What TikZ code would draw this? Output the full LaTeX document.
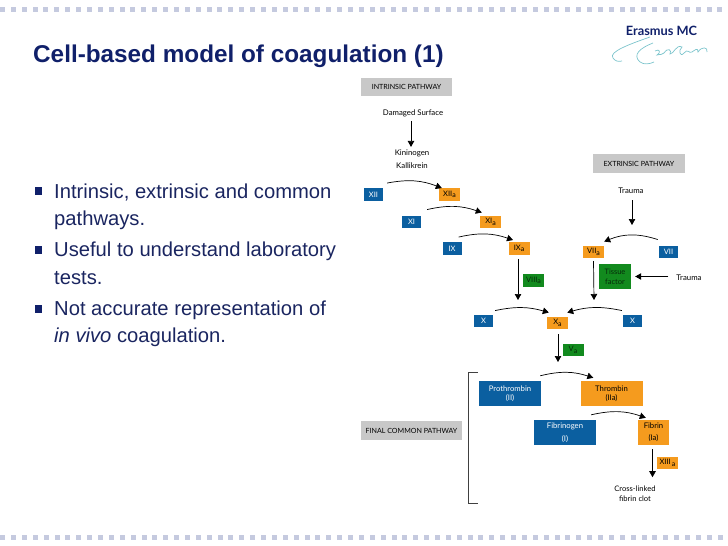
\documentclass[tikz,border=0pt]{standalone}
\usepackage{fontspec}
\setmainfont{Liberation Sans}
\newfontfamily\diagfont{Lato}
\usetikzlibrary{arrows.meta}
\definecolor{titlenavy}{HTML}{10206A}
\definecolor{bodynavy}{HTML}{1A2560}
\definecolor{dotgrey}{HTML}{C5CADF}
\definecolor{zymogen}{HTML}{0B5FA0}
\definecolor{active}{HTML}{F59B1E}
\definecolor{cofactor}{HTML}{128A1E}
\definecolor{cofatext}{HTML}{062A0A}
\definecolor{pathgrey}{HTML}{C8C8C8}
\definecolor{logoteal}{HTML}{7CC4CC}
\newcommand{\suba}{\raisebox{-1.6pt}{\fontsize{7}{7}\selectfont a}}
\tikzset{
    factor/.style={
        minimum width=19pt,
        minimum height=12.5pt,
        inner sep=0pt,     % Boxes keep their size whatever the text
        align=center,
        font=\diagfont\fontsize{7.5}{8}\selectfont
    },
    zymo/.style={factor,fill=zymogen,text=white},
    actv/.style={factor,fill=active,text=black,minimum width=21pt},
    cofa/.style={factor,fill=cofactor,text=cofatext,minimum width=21pt},
    bigbox/.style={minimum width=62pt,minimum height=25pt},
    pathbox/.style={
        fill=pathgrey,
        inner sep=0pt,
        font=\diagfont\fontsize{7.1}{8}\selectfont
    },
    plain/.style={inner sep=0pt,align=center,font=\diagfont\fontsize{7.8}{13}\selectfont},
    conv/.style={-{Triangle[length=6pt,width=6.5pt]},line width=0.7pt,black},
    bullet/.style={anchor=west,inner sep=0pt,text=bodynavy,font=\fontsize{20.2}{22}\selectfont},
    sqdot/.style={fill=dotgrey,draw=none}
}
\begin{document}
\begin{tikzpicture}[x=1pt,y=-1pt]
\useasboundingbox (0,0) rectangle (728,546);
% dotted rules along the slide
\foreach \i in {0,...,67} {
    \fill[sqdot] (0+\i*10.87,6.5) rectangle ++(5,5);
    \fill[sqdot] (0.2+\i*10.87,535) rectangle ++(5,5);
}
% slide text
\node[anchor=west,inner sep=0pt,text=titlenavy,font=\bfseries\fontsize{24.3}{28}\selectfont] (title) at (33,56) {Cell-based model of coagulation (1)};
\node[bullet] (line1) at (54,192) {Intrinsic, extrinsic and common};
\node[bullet] (line2) at (54,220) {pathways.};
\node[bullet] (line3) at (54,251) {Useful to understand laboratory};
\node[bullet] (line4) at (54,278) {tests.};
\node[bullet] (line5) at (54,310) {Not accurate representation of};
\node[bullet] (line6) at (54,337) {\textit{in vivo} coagulation.};
\foreach \y in {191,250,309} {
    \fill[titlenavy] (34.5,\y-4) rectangle ++(7.5,7.5);
}
% logo
\node[inner sep=0pt,text=titlenavy,font=\diagfont\bfseries\fontsize{12.8}{13}\selectfont] (logo) at (661.5,31) {Erasmus MC};
\draw[logoteal,line width=0.7pt] (650,37) .. controls (630,44) and (608,52) .. (613,58) .. controls (615,61) and (618,62) .. (622,61);
\draw[logoteal,line width=0.7pt] (653,43) .. controls (640,48) and (632,55) .. (640,62) .. controls (644,65) and (650,64) .. (654,62);
\draw[logoteal,line width=0.7pt] (655,51) .. controls (660,48) and (661,53) .. (657,55) .. controls (661,54) and (662,55) .. (664,53) .. controls (668,47) and (672,50) .. (670,54) .. controls (674,54) and (676,44) .. (682,47) .. controls (678,50) and (680,58) .. (684,53) .. controls (688,48) and (689,54) .. (692,52) .. controls (695,50) and (698,47) .. (698,52) .. controls (702,46) and (708,47) .. (707,52);
% pathway labels
\node[pathbox,minimum width=91pt,minimum height=18pt] (intrinsic) at (406.5,87) {INTRINSIC PATHWAY};
\node[pathbox,minimum width=92pt,minimum height=19pt] (extrinsic) at (639,163.5) {EXTRINSIC PATHWAY};
\node[pathbox,minimum width=101pt,minimum height=19pt] (final) at (411.5,430.5) {FINAL COMMON PATHWAY};
% intrinsic
\node[plain] (surface) at (413,113) {Damaged Surface};
\node[plain] (kinin) at (412,159.5) {Kininogen\\Kallikrein};
\node[zymo] (xii) at (373.5,194.5) {XII};
\node[actv] (xiia) at (449.5,194.5) {XII\suba};
\node[zymo] (xi) at (411.5,222) {XI};
\node[actv] (xia) at (490.5,222) {XI\suba};
\node[zymo] (ix) at (452,248.5) {IX};
\node[actv] (ixa) at (519,248.5) {IX\suba};
\node[cofa] (viiia) at (533.5,280.5) {VIII\suba};
\node[zymo] (xl) at (483.5,321) {X};
\node[actv] (xa) at (557.5,323) {X\suba};
\node[zymo] (xr) at (632.5,321) {X};
% extrinsic
\node[plain] (traumatop) at (631,191) {Trauma};
\node[actv] (viia) at (593.5,252) {VII\suba};
\node[zymo] (vii) at (668.5,252) {VII};
\node[cofa,minimum width=32pt,minimum height=25pt,font=\diagfont\fontsize{7.5}{10}\selectfont] (tissue) at (615,276.5) {Tissue\\factor};
\node[plain] (traumaside) at (689,278) {Trauma};
\coordinate (ixend) at (518,300);
\coordinate (viiaend) at (594,300);
\coordinate (vapoint) at (558,362);
\node[cofa] (va) at (573,350) {V\suba};
% final common pathway
\node[zymo,bigbox,font=\diagfont\fontsize{7.7}{8.5}\selectfont] (prothrombin) at (510,393.5) {Prothrombin\\(II)};
\node[actv,bigbox,font=\diagfont\fontsize{7.7}{9.5}\selectfont] (thrombin) at (611.5,393.5) {Thrombin\\(IIa)};
\node[zymo,bigbox,font=\diagfont\fontsize{7.7}{13.5}\selectfont] (fibrinogen) at (565,432.5) {Fibrinogen\\(I)};
\node[actv,bigbox,minimum width=31pt,font=\diagfont\fontsize{7.7}{12}\selectfont] (fibrin) at (653.5,432.5) {Fibrin\\(Ia)};
\node[actv] (xiiia) at (667.5,463) {XIII\,\suba};
\node[plain,font=\diagfont\fontsize{7.6}{10}\selectfont] (clot) at (635,494) {Cross-linked\\fibrin clot};
% bracket
\draw[black!75,line width=0.7pt] (478,372) -- (468,372) -- (468,503) -- (478,503);
% straight arrows
\draw[conv] (surface.south -| kinin) ++(-1,4) -- ([xshift=-1pt,yshift=3pt]kinin.north);
\draw[conv] (ixa.south) ++(-1,4) -- (ixend);
\draw[conv] (viia) ++(0,9) -- (viiaend);
\draw[conv] (traumatop) ++(1,9) -- ++(0,25);
\draw[conv] ([xshift=-8pt]traumaside.west |- tissue.east) -- ([xshift=4pt]tissue.east);
\draw[conv] (xa.south) ++(0.5,5) -- (vapoint);
\draw[conv] (fibrin.south) ++(-1,4) -- ++(0,28);
% curved arrows
\draw[conv] (xii.north east) ++(4,-5) to[bend left=16] ([xshift=3pt]xiia.north west);
\draw[conv] (xi.north east) ++(6,-6) to[bend left=16] ([xshift=2pt,yshift=3pt]xia.north west);
\draw[conv] (ix.north east) ++(-3,-5) to[bend left=16] ([xshift=-6pt,yshift=2pt]ixa.north);
\draw[conv] (xl.north east) ++(2,-4) to[bend left=14] ([xshift=2pt,yshift=4pt]xa.north west);
\draw[conv] (xr.north west) ++(-1,-4) to[bend right=14] ([xshift=-1pt,yshift=4pt]xa.north east);
\draw[conv] (vii.north west) ++(-1,-6) to[bend right=20] ([yshift=4pt]viia.north east);
\draw[conv] (prothrombin.north east) ++(-1,-5) to[bend left=16] ([xshift=13pt,yshift=3pt]thrombin.north west);
\draw[conv] (fibrinogen.north east) ++(-5,-5) to[bend left=16] ([xshift=8pt,yshift=2pt]fibrin.north west);
\end{tikzpicture}
\end{document}
